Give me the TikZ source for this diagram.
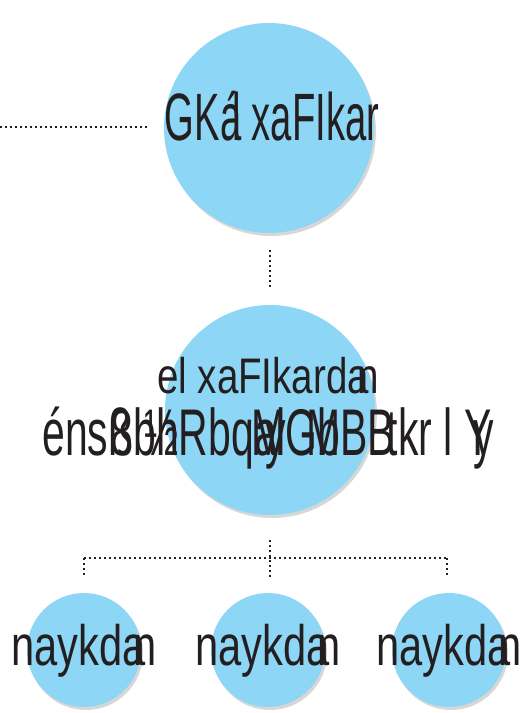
\documentclass[tikz,border=0pt]{standalone}
\usepackage{fontspec}
\usepackage{graphicx}
\setmainfont{Liberation Sans}
\usetikzlibrary{shadows}

\definecolor{ballblue}{RGB}{142,214,245}
\definecolor{inkgray}{RGB}{35,31,32}

% narrow label: size, horizontal squeeze, text
\newcommand{\khlabel}[3]{\fontsize{#1}{#1}\selectfont\scalebox{#2}[1]{#3}}

\begin{document}
\begin{tikzpicture}[
            x = 1pt, y = -1pt, % pixel-like grid, y downwards
            ball/.style = {circle, fill=ballblue, inner sep=0pt,
                drop shadow={shadow xshift=2pt, shadow yshift=-3pt,
                    fill=black!35, opacity=0.45}},
            bigball/.style = {ball, minimum size=210pt},
            smallball/.style = {ball, minimum size=114pt},
            word/.style = {anchor=base, inner sep=0pt, text=inkgray},
            link/.style = {draw=inkgray, line width=1.5pt,
                dash pattern=on 1.5pt off 3.5pt}
        ]
	\useasboundingbox (0,0) rectangle (531,713);

	% circles
	\node[bigball] (top) at (269,128) {};
	\node[bigball] (mid) at (270,410) {};
	\node[smallball] (n1) at (84,650) {};
	\node[smallball] (n2) at (268,650) {};
	\node[smallball] (n3) at (449,650) {};

	% texts
	\node[word] (ttop) at (272,140) {\khlabel{67}{0.57}{GKá\llap{l} xaFIkar}};
	\node[word] (tmid) at (268,393) {\khlabel{50}{0.77}{el xaFIkarda\kern-.3em n}};
	\node[word] (tmidb) at (268,455)
		{\khlabel{66}{0.62}{énsß\llap{8}bh\llap{½}Rbqal\llap{y}\llap{M}Gb\llap{M}BB\kern-.2em tkr l Y\kern-.45em y}};
	\node[word] (t1) at (84,665) {\khlabel{57}{0.73}{naykda\kern-.3em n}};
	\node[word] (t2) at (268,665) {\khlabel{57}{0.73}{naykda\kern-.3em n}};
	\node[word] (t3) at (449,665) {\khlabel{57}{0.73}{naykda\kern-.3em n}};

	% connectors
	\coordinate (lft) at (0,127);
	\coordinate (hub) at (270,558);
	\draw[link] (lft) -- ([xshift=-15pt]top.west |- lft);
	\draw[link] ([yshift=-17pt]mid.north |- top.south) -- ([yshift=18pt]mid.north);
	\draw[link] ([yshift=-25pt]mid.south) -- (hub) -- ++(0,20);
	\draw[link] (hub -| n1) -- (hub -| 447,0);
	\draw[link] (hub -| n1) -- ++(0,20);
	\draw[link] (hub -| 447,0) -- ++(0,20);

\end{tikzpicture}
\end{document}
